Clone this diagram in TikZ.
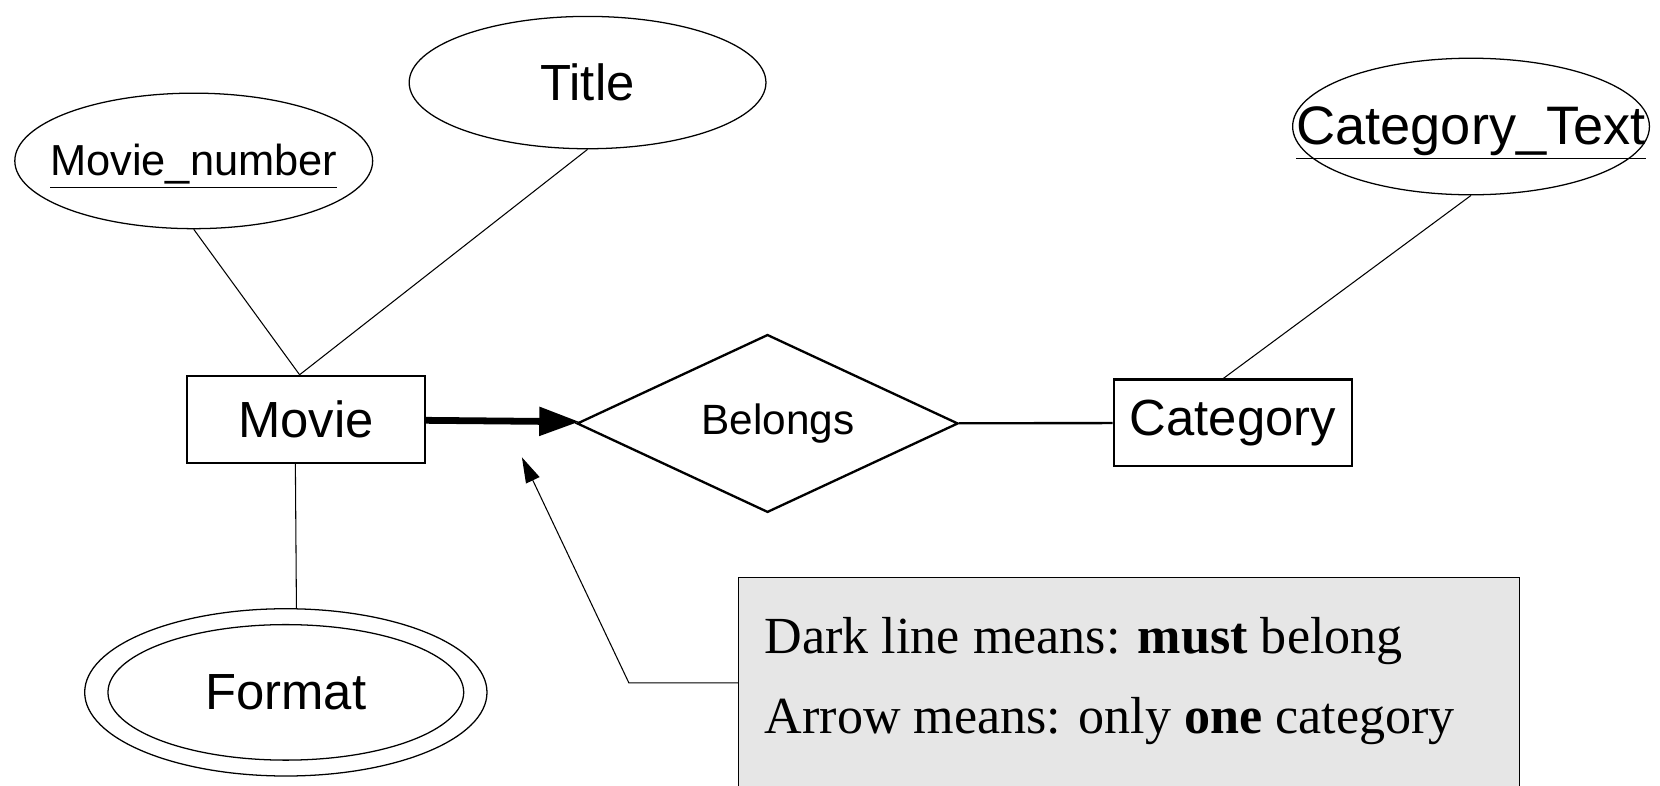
\documentclass[tikz,border=0pt]{standalone}
\usepackage{fontspec}
\setmainfont{Liberation Serif}
\newfontfamily\ersf{Liberation Sans}
\usetikzlibrary{shapes.geometric,arrows.meta}
\definecolor{notegray}{HTML}{E6E6E6}

\begin{document}
\begin{tikzpicture}[
    x=0.5pt, y=-0.5pt,
    entity/.style={rectangle, draw, line width=1pt, minimum width=112.5pt, minimum height=41pt, inner sep=0pt, font=\ersf\fontsize{24}{28}\selectfont},
    relation/.style={diamond, draw, line width=1.1pt, aspect=2.14, minimum width=180pt, minimum height=84pt, inner sep=0pt, font=\ersf\fontsize{20}{24}\selectfont},
    attrib/.style={ellipse, draw, line width=0.6pt, inner sep=0pt, font=\ersf\fontsize{24}{28}\selectfont},
    attrline/.style={line width=0.5pt},
    must/.style={-{Triangle[length=19pt, width=13pt]}, line width=3.2pt},
    link/.style={line width=1.1pt},
    pointer/.style={-{Triangle[length=12pt, width=7pt]}, line width=0.5pt},
    notetext/.style={anchor=base west, inner sep=0pt, font=\fontsize{24.6}{30}\selectfont}
]
\useasboundingbox (0,0) rectangle (1568,742);

% Entities and relationship
\node[entity] (movie) at (289,396) {Movie};
\node[relation] (belongs) at (725,400) {\hspace{10pt}Belongs};
\node[entity] (category) at (1164.5,399.5) {Category};

% Attributes
\node[attrib, minimum width=169pt, minimum height=64pt, font=\ersf\fontsize{20.5}{24}\selectfont] (movienum) at (183,152) {\makebox[0pt]{\smash{\raisebox{-7pt}{\underline{Movie\_number}}}}};
\node[attrib, minimum width=168.5pt, minimum height=62.5pt] (title) at (555,78) {Title};
\node[attrib, minimum width=168.5pt, minimum height=64.5pt, font=\ersf\fontsize{25.6}{30}\selectfont] (cattext) at (1389.5,119.5) {\makebox[0pt]{\smash{\raisebox{-8.5pt}{\underline{Category\_Text}}}}};
\node[attrib, minimum width=190pt, minimum height=79pt] (format) at (270,654) {};
\node[attrib, minimum width=168pt, minimum height=64pt] (formatin) at (270,654) {Format};

% Attribute links
\draw[attrline] (movienum.south) -- ([xshift=-3pt]movie.north);
\draw[attrline] (title.south) -- ([xshift=-3pt]movie.north);
\draw[attrline] ([xshift=-5pt]movie.south) -- ([xshift=5pt]format.north);
\draw[attrline] (cattext.south) -- ([xshift=-4.5pt]category.north);

% Relationship links
\draw[must] (movie) -- (belongs);
\draw[link] (belongs) -- (category);

% Note
\node[draw, fill=notegray, line width=0.6pt, minimum width=369pt, minimum height=117.5pt, anchor=north west, inner sep=0pt] (note) at (697,545) {};
\node[notetext] (noteone) at (722,617) {Dark line means: \textbf{must} belong};
\node[notetext] (notetwo) at (722,693) {Arrow means: only \textbf{one} category};

\coordinate (bend) at (594,645);
\coordinate (hint) at (493,432);
\draw[pointer] (note.west |- bend) -- (bend) -- (hint);

\end{tikzpicture}
\end{document}
